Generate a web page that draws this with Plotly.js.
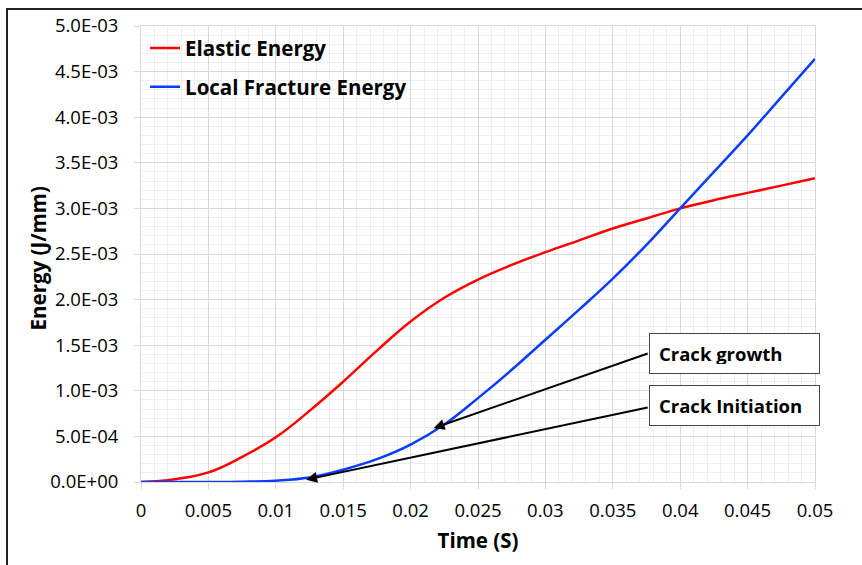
<!DOCTYPE html>
<html>
<head>
<meta charset="utf-8">
<script src="https://cdn.plot.ly/plotly-3.0.1.min.js"></script>
<style>
  html, body { margin: 0; padding: 0; background: #fff; }
  #wrap { position: relative; width: 862px; height: 565px; overflow: hidden; }
  #chart { position: absolute; left: 0; top: 0; width: 862px; height: 565px; }
  #frame { position: absolute; left: 6px; top: 8px; width: 900px; height: 600px;
           border-top: 2px solid #222; border-left: 2px solid #222; pointer-events: none; }
</style>
</head>
<body>
<div id="wrap"><div id="chart"></div><div id="frame"></div></div>
<script>
// Time (s)
const time = [0, 0.0025, 0.005, 0.0075, 0.01, 0.0125, 0.015, 0.0175, 0.02, 0.0225, 0.025,
              0.0275, 0.03, 0.0325, 0.035, 0.0375, 0.04, 0.0425, 0.045, 0.0475, 0.05];
// Elastic Energy (J/mm)
const elasticEnergy = [0, 3e-5, 1.05e-4, 2.75e-4, 4.9e-4, 7.8e-4, 1.10e-3, 1.44e-3, 1.76e-3, 2.02e-3, 2.22e-3,
                       2.38e-3, 2.52e-3, 2.65e-3, 2.78e-3, 2.89e-3, 3.0e-3, 3.09e-3, 3.17e-3, 3.25e-3, 3.33e-3];
// Local Fracture Energy (J/mm)
const fractureEnergy = [0, 0, 0, 3e-6, 1.5e-5, 5e-5, 1.35e-4, 2.5e-4, 4.1e-4, 6.3e-4, 9.2e-4,
                        1.23e-3, 1.56e-3, 1.89e-3, 2.23e-3, 2.6e-3, 3.0e-3, 3.4e-3, 3.8e-3, 4.22e-3, 4.64e-3];

const seriesNames = ['Elastic Energy', 'Local Fracture Energy'];
const xTitle = 'Time (S)';
const yTitle = 'Energy (J/mm)';

const yTickVals = [0, 5e-4, 1e-3, 1.5e-3, 2e-3, 2.5e-3, 3e-3, 3.5e-3, 4e-3, 4.5e-3, 5e-3];
const yTickText = ['0.0E+00', '5.0E-04', '1.0E-03', '1.5E-03', '2.0E-03', '2.5E-03',
                   '3.0E-03', '3.5E-03', '4.0E-03', '4.5E-03', '5.0E-03'];
const xTickVals = [0, 0.005, 0.01, 0.015, 0.02, 0.025, 0.03, 0.035, 0.04, 0.045, 0.05];
const xTickText = ['0', '0.005', '0.01', '0.015', '0.02', '0.025', '0.03', '0.035', '0.04', '0.045', '0.05'];

// Annotation labels and the points they indicate
const noteLabels = ['Crack growth', 'Crack Initiation'];
const notePoints = [[0.0217, 5.9e-4], [0.01225, 2.5e-5]];
const noteTails = [[0.0377, 1.414e-3], [0.0377, 8.2e-4]];
const noteBoxY = [1.41e-3, 8.44e-4];

const FONT = '"Open Sans", "Liberation Sans", sans-serif';

const traces = [
  { x: time, y: elasticEnergy, name: seriesNames[0], type: 'scatter', mode: 'lines',
    line: { color: '#ff0000', width: 2.5, shape: 'spline', smoothing: 1.2 }, legendgroup: 'a' },
  { x: time, y: fractureEnergy, name: seriesNames[1], type: 'scatter', mode: 'lines',
    line: { color: '#0a3cff', width: 2.5, shape: 'spline', smoothing: 1.2 }, legendgroup: 'b' }
];

const annotations = [];
for (let i = 0; i < noteLabels.length; i++) {
  annotations.push({
    x: notePoints[i][0], y: notePoints[i][1], xref: 'x', yref: 'y',
    ax: noteTails[i][0], ay: noteTails[i][1], axref: 'x', ayref: 'y',
    text: '', showarrow: true, arrowhead: 2, arrowsize: 1.1, arrowwidth: 2, arrowcolor: '#000'
  });
  annotations.push({
    x: noteTails[i][0], y: noteBoxY[i], xref: 'x', yref: 'y',
    xanchor: 'left', yanchor: 'middle', showarrow: false,
    text: '<b>' + noteLabels[i] + '</b>', align: 'left',
    width: 151, height: 21, borderpad: 9, borderwidth: 1, bordercolor: '#444',
    bgcolor: '#fff', font: { family: FONT, size: 18.5, color: '#000' }
  });
}
// y-axis title placed as rotated text beside the tick labels
annotations.push({
  x: -0.153, y: 0.49, xref: 'paper', yref: 'paper', xanchor: 'center', yanchor: 'middle',
  showarrow: false, textangle: -90, text: '<b>' + yTitle + '</b>',
  font: { family: FONT, size: 20.5, color: '#000' }
});

const layout = {
  width: 862, height: 565,
  margin: { l: 141, r: 47, t: 26, b: 83 },
  paper_bgcolor: '#fff', plot_bgcolor: '#fff',
  font: { family: FONT, color: '#000' },
  showlegend: true,
  legend: { x: 0.006, y: 0.995, xanchor: 'left', yanchor: 'top', bgcolor: 'rgba(0,0,0,0)',
            font: { family: FONT, size: 20.5, color: '#000', weight: 'bold' },
            traceorder: 'grouped', tracegroupgap: 9, itemwidth: 30 },
  xaxis: {
    range: [0, 0.05], tickvals: xTickVals, ticktext: xTickText,
    tickfont: { family: FONT, size: 18.5, color: '#000' },
    ticks: 'outside', ticklen: 6, tickcolor: '#d9d9d9', ticklabelstandoff: 6,
    showgrid: true, gridcolor: '#d9d9d9', gridwidth: 1,
    minor: { dtick: 0.001, showgrid: true, gridcolor: '#eeeeee', gridwidth: 1, ticks: '' },
    zeroline: false, showline: true, linecolor: '#d9d9d9', mirror: true,
    title: { text: '<b>' + xTitle + '</b>', font: { family: FONT, size: 20.5, color: '#000' }, standoff: 12 }
  },
  yaxis: {
    range: [0, 5e-3], tickvals: yTickVals, ticktext: yTickText,
    tickfont: { family: FONT, size: 18.5, color: '#000' },
    ticks: 'outside', ticklen: 6, tickcolor: '#d9d9d9', ticklabelstandoff: 12,
    showgrid: true, gridcolor: '#d9d9d9', gridwidth: 1,
    minor: { dtick: 1e-4, showgrid: true, gridcolor: '#eeeeee', gridwidth: 1, ticks: '' },
    zeroline: false, showline: true, linecolor: '#d9d9d9', mirror: true
  },
  annotations: annotations
};

Plotly.newPlot('chart', traces, layout, { staticPlot: true, displayModeBar: false });
</script>
</body>
</html>
